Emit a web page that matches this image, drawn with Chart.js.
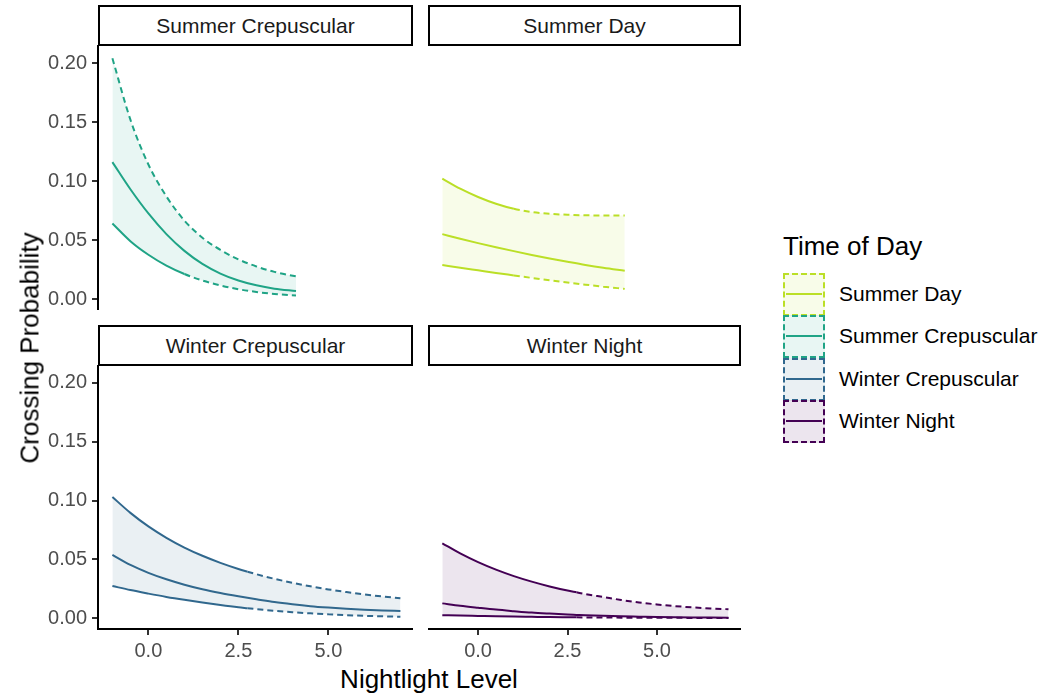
<!DOCTYPE html>
<html>
<head>
<meta charset="utf-8">
<script src="https://cdn.jsdelivr.net/npm/chart.js@4"></script>
<style>
  body { margin: 0; background: #fff; font-family: "Liberation Sans", Arial, sans-serif; }
  #wrap { position: relative; width: 1050px; height: 698px; overflow: hidden; }
  canvas { position: absolute; }
  .strip { position: absolute; box-sizing: border-box; border: 2px solid #000; background: #fff;
           display: flex; align-items: center; justify-content: center; font-size: 21px; color: #1a1a1a; }
  .title { position: absolute; font-size: 26px; color: #000; white-space: nowrap; }
  .key { position: absolute; box-sizing: border-box; width: 42px; height: 43px; border: 2px dashed; }
  .key i { position: absolute; left: 1px; right: 1px; top: 18px; height: 2px; }
  .lab { position: absolute; font-size: 21px; color: #000; white-space: nowrap; line-height: 24px; }
</style>
</head>
<body>
<div id="wrap">
  <canvas id="tl" width="375" height="265" style="left:38px;top:45px"></canvas>
  <canvas id="tr" width="313" height="265" style="left:428px;top:45px"></canvas>
  <canvas id="bl" width="375" height="299" style="left:38px;top:365px"></canvas>
  <canvas id="br" width="313" height="299" style="left:428px;top:365px"></canvas>

  <div class="strip" style="left:98px;top:5px;width:315px;height:41px">Summer Crepuscular</div>
  <div class="strip" style="left:428px;top:5px;width:313px;height:41px">Summer Day</div>
  <div class="strip" style="left:98px;top:325px;width:315px;height:41px">Winter Crepuscular</div>
  <div class="strip" style="left:428px;top:325px;width:313px;height:41px">Winter Night</div>

  <div class="title" style="left:429px;top:664px;transform:translateX(-50%)">Nightlight Level</div>
  <div class="title" style="left:30px;top:348px;transform:translate(-50%,-50%) rotate(-90deg)">Crossing Probability</div>

  <div id="legend"></div>
</div>

<script>
// axis ticks
const xTicks = [0, 2.5, 5.0];
const yTicks = [0, 0.05, 0.10, 0.15, 0.20];

// nightlight levels
const summerX = [-1, -0.5, 0, 0.5, 1, 1.5, 2, 2.5, 3, 3.5, 4.1];
const winterX = [-1, -0.5, 0, 0.5, 1, 1.5, 2, 2.5, 2.75, 3, 3.5, 4, 4.5, 5, 5.5, 6, 6.5, 7];

// Summer Crepuscular
const scUpper = [0.204, 0.152, 0.114, 0.087, 0.0665, 0.052, 0.0416, 0.0336, 0.0276, 0.023, 0.0192];
const scMean  = [0.116, 0.093, 0.0725, 0.055, 0.0408, 0.0298, 0.0216, 0.0157, 0.0116, 0.0088, 0.0068];
const scLower = [0.064, 0.049, 0.0375, 0.0283, 0.0212, 0.0157, 0.0115, 0.0083, 0.006, 0.0043, 0.0029];

// Summer Day
const sdUpper = [0.102, 0.0935, 0.0865, 0.0808, 0.0765, 0.0737, 0.0722, 0.0714, 0.071, 0.0708, 0.0707];
const sdMean  = [0.055, 0.0511, 0.0474, 0.0439, 0.0406, 0.0374, 0.0344, 0.0316, 0.0289, 0.0265, 0.024];
const sdLower = [0.0288, 0.0265, 0.0243, 0.0221, 0.02, 0.0179, 0.0159, 0.014, 0.0122, 0.0105, 0.0086];

// Winter Crepuscular
const wcUpper = [0.103, 0.0895, 0.078, 0.0683, 0.06, 0.053, 0.047, 0.0418, 0.0395, 0.0373, 0.0334, 0.03, 0.027, 0.0244, 0.0221, 0.0201, 0.0184, 0.0169];
const wcMean  = [0.0537, 0.0452, 0.0385, 0.033, 0.0284, 0.0245, 0.0213, 0.0185, 0.0172, 0.016, 0.0136, 0.0117, 0.0101, 0.0089, 0.0079, 0.0071, 0.0065, 0.0061];
const wcLower = [0.0273, 0.0238, 0.0208, 0.018, 0.0155, 0.0132, 0.0111, 0.0092, 0.0084, 0.0076, 0.0062, 0.005, 0.004, 0.0032, 0.0025, 0.0019, 0.0015, 0.0011];

// Winter Night
const wnUpper = [0.0636, 0.055, 0.0476, 0.0412, 0.0357, 0.031, 0.0269, 0.0234, 0.0219, 0.0204, 0.0179, 0.0154, 0.0133, 0.0116, 0.0102, 0.0091, 0.0082, 0.0075];
const wnMean  = [0.0125, 0.0105, 0.0088, 0.0072, 0.0059, 0.0047, 0.0038, 0.003, 0.0027, 0.0024, 0.0019, 0.0015, 0.0012, 0.0009, 0.0007, 0.00055, 0.00045, 0.00035];
const wnLower = [0.0025, 0.0021, 0.0018, 0.0015, 0.00125, 0.00105, 0.00085, 0.0007, 0.00063, 0.00056, 0.00045, 0.00036, 0.00029, 0.00023, 0.00018, 0.00015, 0.00012, 0.0001];

// legend order
const groups = ["Summer Day", "Summer Crepuscular", "Winter Crepuscular", "Winter Night"];
const colors = ["#BBDF27", "#20A486", "#31688E", "#440154"];
const fills  = ["rgba(187,223,39,0.1)", "rgba(32,164,134,0.1)", "rgba(49,104,142,0.1)", "rgba(68,1,84,0.1)"];

// bounds turn dashed beyond these x values
const panels = [
    { id: "tl", g: 1, x: summerX, lower: scLower, mean: scMean, upper: scUpper, cutLo: 1.0, cutUp: -1, showX: false, showY: true },
    { id: "tr", g: 0, x: summerX, lower: sdLower, mean: sdMean, upper: sdUpper, cutLo: 1.0, cutUp: 1.0, showX: false, showY: false },
    { id: "bl", g: 2, x: winterX, lower: wcLower, mean: wcMean, upper: wcUpper, cutLo: 2.75, cutUp: 2.75, showX: true, showY: true },
    { id: "br", g: 3, x: winterX, lower: wnLower, mean: wnMean, upper: wnUpper, cutLo: 2.75, cutUp: 2.75, showX: true, showY: false },
];

const dashAfter = cut => ({ borderDash: c => c.p0.parsed.x >= cut - 1e-9 ? [6, 4] : undefined });
const pts = (xs, ys) => xs.map((x, i) => ({ x, y: ys[i] }));

const tickFont = { family: "'Liberation Sans', Arial, sans-serif", size: 20 };

panels.forEach(p => {
    const col = colors[p.g];
    new Chart(document.getElementById(p.id), {
        type: "line",
        data: {
            datasets: [
                // ribbon (no outline, so the fill is one piece)
                { data: pts(p.x, p.lower), borderColor: "transparent", fill: false },
                { data: pts(p.x, p.upper), borderColor: "transparent", fill: "-1", backgroundColor: fills[p.g] },
                // bounds and fitted line
                { data: pts(p.x, p.lower), borderColor: col, fill: false, segment: dashAfter(p.cutLo) },
                { data: pts(p.x, p.upper), borderColor: col, fill: false, segment: dashAfter(p.cutUp) },
                { data: pts(p.x, p.mean), borderColor: col, fill: false },
            ]
        },
        options: {
            responsive: false,
            animation: false,
            layout: { padding: 0 },
            plugins: { legend: { display: false }, tooltip: { enabled: false } },
            elements: {
                point: { radius: 0 },
                line: { borderWidth: 2, tension: 0.4, cubicInterpolationMode: "monotone", borderCapStyle: "butt" }
            },
            scales: {
                x: {
                    type: "linear", min: -1.4, max: 7.35,
                    display: p.showX,
                    afterBuildTicks: s => { s.ticks = xTicks.map(v => ({ value: v })); },
                    afterFit: s => { if (p.showX) s.height = 35; s.paddingLeft = 0; s.paddingRight = 0; },
                    ticks: { color: "#4d4d4d", font: tickFont, padding: 4, maxRotation: 0, callback: v => v.toFixed(1) },
                    grid: { display: true, drawOnChartArea: false, drawTicks: true, tickLength: 6, color: "#333", lineWidth: 2 },
                    border: { display: true, color: "#000", width: 2 }
                },
                y: {
                    type: "linear", min: -0.0093, max: 0.2153,
                    display: p.showY,
                    afterBuildTicks: s => { s.ticks = yTicks.map(v => ({ value: v })); },
                    afterFit: s => { if (p.showY) s.width = 60; s.paddingTop = 0; s.paddingBottom = 0; },
                    ticks: { color: "#4d4d4d", font: tickFont, padding: 5, callback: v => v.toFixed(2) },
                    grid: { display: true, drawOnChartArea: false, drawTicks: true, tickLength: 6, color: "#333", lineWidth: 2 },
                    border: { display: true, color: "#000", width: 2 }
                }
            }
        }
    });
});

// legend
const legend = document.getElementById("legend");
let html = '<div class="title" style="left:783px;top:231px">Time of Day</div>';
groups.forEach((g, i) => {
    const top = 273 + i * 42.3;
    html += `<div class="key" style="left:783px;top:${top}px;border-color:${colors[i]};background:${fills[i]}"><i style="background:${colors[i]}"></i></div>`;
    html += `<div class="lab" style="left:839px;top:${top + 9}px">${g}</div>`;
});
legend.innerHTML = html;
</script>
</body>
</html>
